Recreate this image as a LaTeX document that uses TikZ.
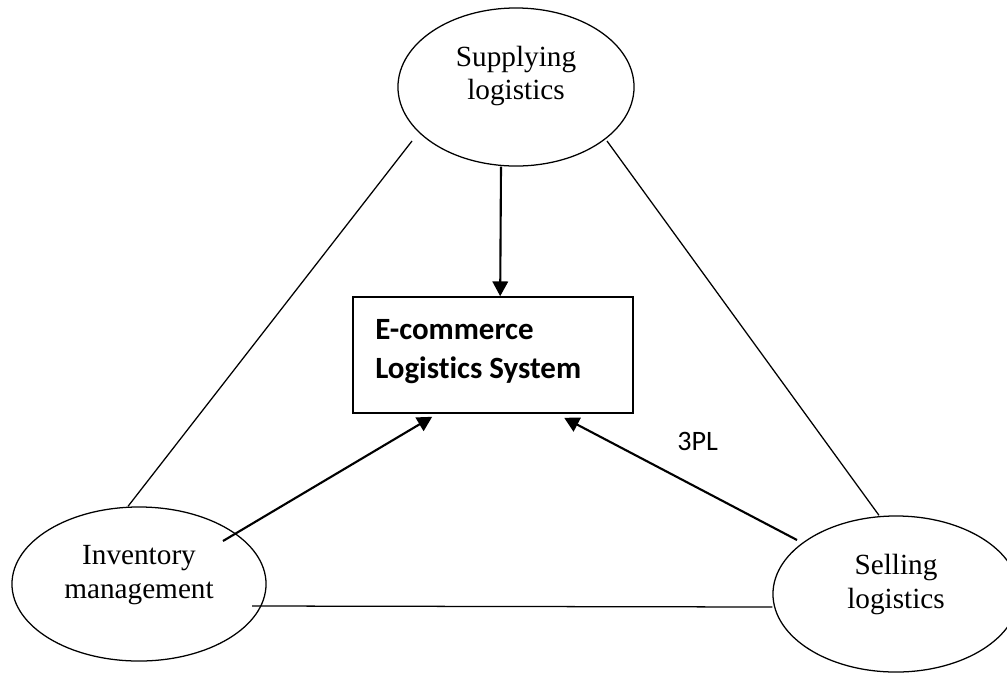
\documentclass[tikz,border=0pt]{standalone}
\usepackage{fontspec}
\setmainfont{Liberation Serif}
\newfontfamily\calibri[Ligatures=NoCommon]{Carlito}
\usetikzlibrary{arrows.meta,shapes.geometric,calc}
\begin{document}
\begin{tikzpicture}[x=0.025cm,y=-0.025cm,
  ell/.style={draw,ellipse,line width=0.9pt,inner sep=0pt},
  etext/.style={align=center,inner sep=0pt,font=\fontsize{20.8}{23.8}\selectfont},
  sysbox/.style={draw,rectangle,line width=1.1pt,inner sep=0pt,minimum width=7cm,minimum height=2.9cm},
  boxtext/.style={align=left,inner sep=0pt,anchor=west,font=\calibri\bfseries\fontsize{22}{27.7}\selectfont},
  lbl/.style={inner sep=0pt,anchor=base west,font=\calibri\fontsize{20}{24}\selectfont},
  thin/.style={line width=0.9pt},
  arr/.style={line width=1.5pt,-{Triangle[length=10.5pt,width=11pt]}}]
\useasboundingbox (0,0) rectangle (1007,673);
% nodes
\node[ell,minimum width=5.9cm,minimum height=3.95cm] (sup) at (516,87) {};
\node[etext] (suptext) at (516,76) {Supplying\\logistics};
\node[ell,minimum width=6.35cm,minimum height=3.85cm] (inv) at (139,584) {};
\node[etext] (invtext) at (139,575) {Inventory\\management};
\node[ell,minimum width=6.15cm,minimum height=3.9cm] (sel) at (896,594) {};
\node[etext] (seltext) at (896,584.5) {Selling\\logistics};
\node[sysbox] (box) at (493,355) {};
\node[boxtext] (boxlabel) at (375,352) {E-commerce\\Logistics System};
\node[lbl] (tpl) at (677,450) {3PL};
% triangle lines
\draw[thin] ($(sup.center)+(-104,54)$) -- ($(inv.north)+(-11,0)$);
\draw[thin] ($(sup.center)+(91,54)$) -- ($(sel.north)+(-17,0)$);
\draw[thin] ($(inv.center)+(113,22)$) -- ($(sel.west)+(0,13)$);
% arrows
\draw[arr] ($(sup.south)+(-15,0)$) -- ($(box.north west)+(148,0)$);
\draw[arr] ($(inv.center)+(84,-43)$) -- ($(box.south west)+(80,3)$);
\draw[arr] ($(sel.center)+(-99,-54)$) -- ($(box.south west)+(212,4)$);
\end{tikzpicture}
\end{document}
